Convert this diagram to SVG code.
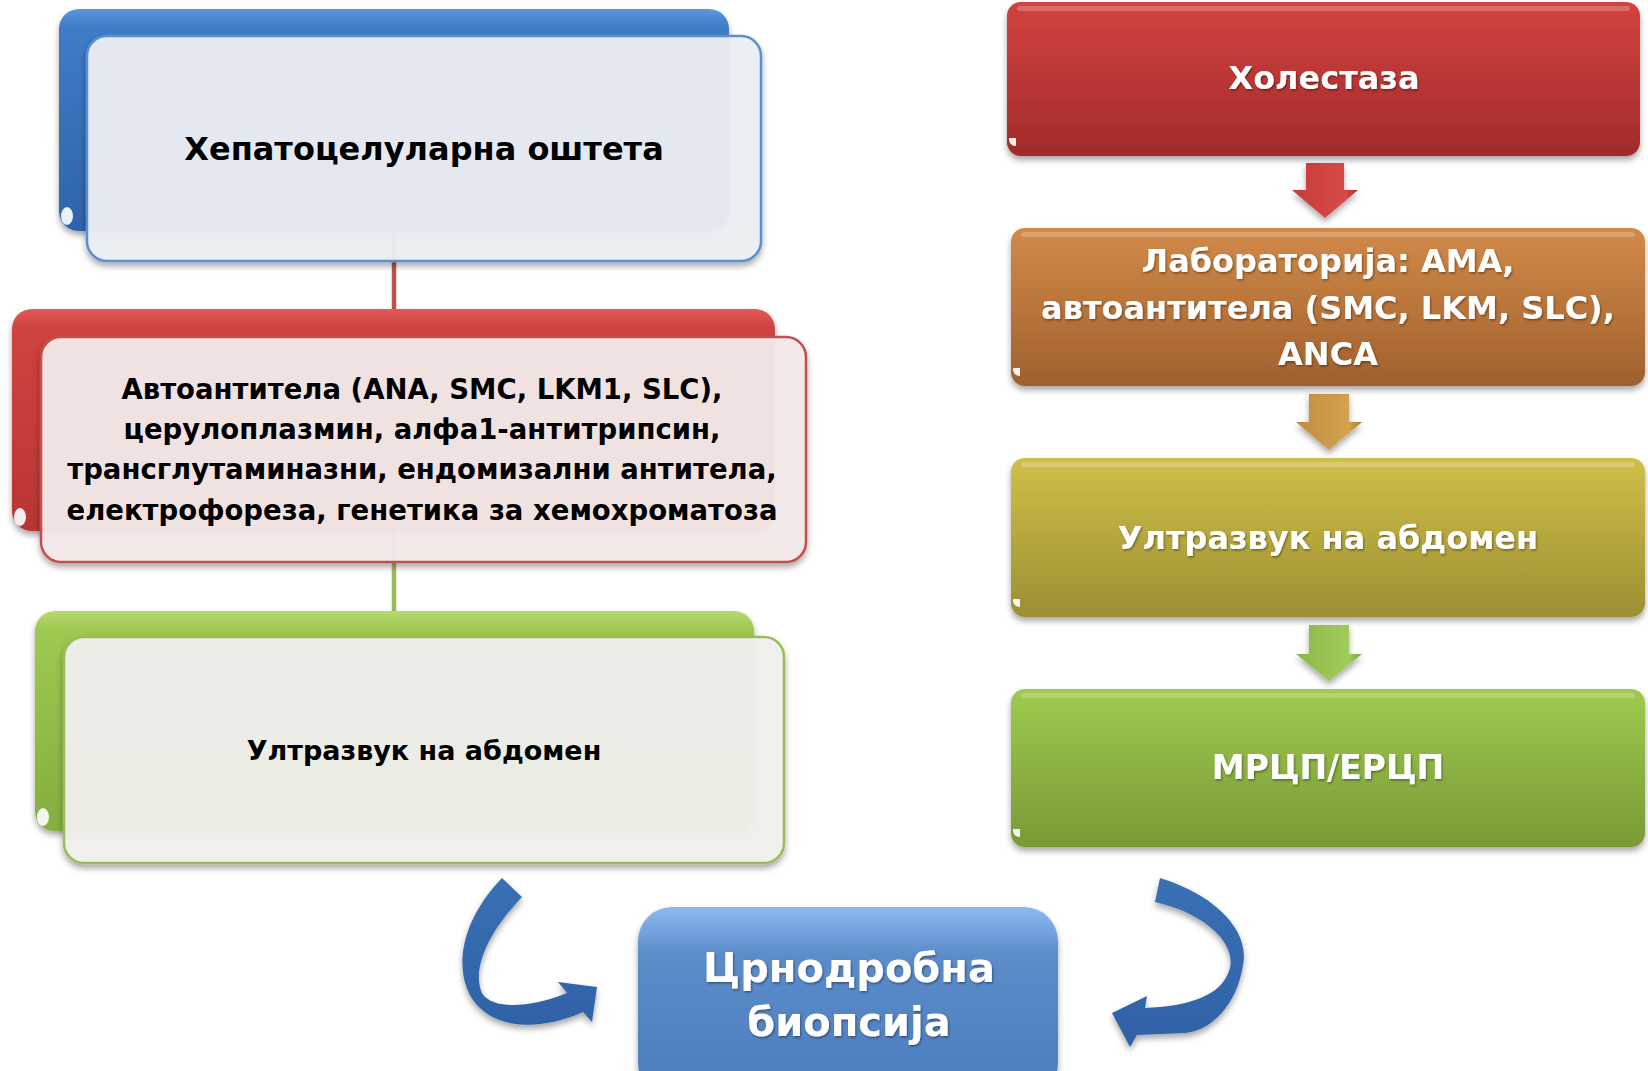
<svg xmlns="http://www.w3.org/2000/svg" width="1648" height="1071" viewBox="0 0 1648 1071">
  <defs>
    <linearGradient id="gBlueBack" x1="0" y1="0" x2="0" y2="1">
      <stop offset="0" stop-color="#5a98df"/>
      <stop offset="0.08" stop-color="#3f7cc6"/>
      <stop offset="1" stop-color="#2f63a9"/>
    </linearGradient>
    <linearGradient id="gRedBack" x1="0" y1="0" x2="0" y2="1">
      <stop offset="0" stop-color="#e25a57"/>
      <stop offset="0.08" stop-color="#d04340"/>
      <stop offset="1" stop-color="#b93534"/>
    </linearGradient>
    <linearGradient id="gGreenBack" x1="0" y1="0" x2="0" y2="1">
      <stop offset="0" stop-color="#b7da72"/>
      <stop offset="0.08" stop-color="#9fc851"/>
      <stop offset="1" stop-color="#86ad3e"/>
    </linearGradient>
    <linearGradient id="gRed" x1="0" y1="0" x2="0" y2="1">
      <stop offset="0" stop-color="#d4423f"/>
      <stop offset="1" stop-color="#a12b2b"/>
    </linearGradient>
    <linearGradient id="gOrange" x1="0" y1="0" x2="0" y2="1">
      <stop offset="0" stop-color="#d28a48"/>
      <stop offset="1" stop-color="#a0602d"/>
    </linearGradient>
    <linearGradient id="gOlive" x1="0" y1="0" x2="0" y2="1">
      <stop offset="0" stop-color="#cfbf48"/>
      <stop offset="1" stop-color="#9c8f33"/>
    </linearGradient>
    <linearGradient id="gGreen" x1="0" y1="0" x2="0" y2="1">
      <stop offset="0" stop-color="#9fca50"/>
      <stop offset="1" stop-color="#799935"/>
    </linearGradient>
    <linearGradient id="gBlueBottom" x1="0" y1="0" x2="0" y2="1">
      <stop offset="0" stop-color="#8cbaf0"/>
      <stop offset="0.25" stop-color="#5c8cca"/>
      <stop offset="1" stop-color="#4b7cbc"/>
    </linearGradient>
    <linearGradient id="gArrowRed" x1="0" y1="0" x2="1" y2="0">
      <stop offset="0" stop-color="#c73b3b"/>
      <stop offset="0.8" stop-color="#d84a48"/>
      <stop offset="1" stop-color="#b23030"/>
    </linearGradient>
    <linearGradient id="gArrowGold" x1="0" y1="0" x2="1" y2="0">
      <stop offset="0" stop-color="#c08e3e"/>
      <stop offset="0.8" stop-color="#d2a250"/>
      <stop offset="1" stop-color="#a87a30"/>
    </linearGradient>
    <linearGradient id="gArrowGreen" x1="0" y1="0" x2="1" y2="0">
      <stop offset="0" stop-color="#8cb848"/>
      <stop offset="0.8" stop-color="#a2cc5a"/>
      <stop offset="1" stop-color="#7aa23c"/>
    </linearGradient>
    <linearGradient id="gCurve" x1="0" y1="0" x2="0" y2="1">
      <stop offset="0" stop-color="#3a70b4"/>
      <stop offset="1" stop-color="#2f62a6"/>
    </linearGradient>
    <filter id="shadow" x="-10%" y="-10%" width="120%" height="130%">
      <feDropShadow dx="0" dy="4" stdDeviation="3" flood-color="#000" flood-opacity="0.35"/>
    </filter>
    <filter id="tshadow" x="-5%" y="-20%" width="110%" height="140%">
      <feDropShadow dx="1" dy="1.5" stdDeviation="1" flood-color="#000" flood-opacity="0.4"/>
    </filter>
  </defs>
  <style>
    .dark { font-family: "DejaVu Sans", "Noto Sans", sans-serif; font-weight: bold; fill: #000; text-anchor: middle; }
    .light { font-family: "DejaVu Sans", "Noto Sans", sans-serif; font-weight: bold; fill: #fff; text-anchor: middle; filter: url(#tshadow); }
    .front { fill-opacity: 0.95; stroke-width: 2.5; filter: url(#shadow); }
    .back { filter: url(#shadow); }
    .rbox { filter: url(#shadow); }
    .gloss { fill: #fff; opacity: 0.9; }
    .topline { fill: #fff; opacity: 0.22; }
  </style>

  <!-- connectors -->
  <g id="connectors">
    <line x1="394" y1="229" x2="394" y2="311" stroke="#c0504d" stroke-width="4.5"/>
    <line x1="394" y1="531" x2="394" y2="613" stroke="#9bbb59" stroke-width="4.5"/>
    <polygon points="1306,163 1344,163 1344,190 1358,190 1325,218 1292,190 1306,190" fill="url(#gArrowRed)" filter="url(#shadow)"/>
    <polygon points="1309,394 1349,394 1349,422 1362,422 1329,450 1296,422 1309,422" fill="url(#gArrowGold)" filter="url(#shadow)"/>
    <polygon points="1309,625 1349,625 1349,654 1362,654 1329,681 1296,654 1309,654" fill="url(#gArrowGreen)" filter="url(#shadow)"/>
    <path d="M 502,878 L 522,897 C 495,925 470,965 482,993 C 492,1010 530,1008 567,993 L 558,982 L 597,987 L 592,1022 L 583,1012 C 550,1027 505,1032 480,1008 C 455,985 452,930 502,878 Z" fill="url(#gCurve)" filter="url(#shadow)"/>
    <path d="M 1160,878 C 1215,895 1250,930 1243,965 C 1238,1000 1215,1030 1185,1033 L 1137,1035 L 1130,1047 L 1112,1013 L 1147,996 L 1145,1008 C 1185,1006 1222,998 1230,968 C 1236,940 1200,912 1155,902 Z" fill="url(#gCurve)" filter="url(#shadow)"/>
  </g>

  <!-- left column -->
  <g id="node-hepatocellular">
    <rect class="back" x="59" y="9" width="670" height="222" rx="20" fill="url(#gBlueBack)"/>
    <ellipse class="gloss" cx="67" cy="216" rx="6" ry="9"/>
    <rect class="front" x="87" y="36" width="674" height="225" rx="20" fill="#eceff4" stroke="#5b8fd0"/>
    <text class="dark" x="424" y="160" font-size="32">Хепатоцелуларна оштета</text>
  </g>

  <g id="node-autoantibodies">
    <rect class="back" x="12" y="309" width="763" height="222" rx="20" fill="url(#gRedBack)"/>
    <ellipse class="gloss" cx="20" cy="517" rx="6" ry="9"/>
    <rect class="front" x="41" y="337" width="765" height="225" rx="20" fill="#f4eaea" stroke="#c0504d"/>
    <text class="dark" x="422" y="399" font-size="27.5">Автоантитела (ANA, SMC, LKM1, SLC),</text>
    <text class="dark" x="422" y="439" font-size="27.5">церулоплазмин, алфа1-антитрипсин,</text>
    <text class="dark" x="422" y="479" font-size="27.5">трансглутаминазни, ендомизални антитела,</text>
    <text class="dark" x="422" y="520" font-size="27.5">електрофореза, генетика за хемохроматоза</text>
  </g>

  <g id="node-ultrasound-left">
    <rect class="back" x="35" y="611" width="719" height="220" rx="20" fill="url(#gGreenBack)"/>
    <ellipse class="gloss" cx="43" cy="817" rx="6" ry="9"/>
    <rect class="front" x="64" y="637" width="720" height="226" rx="20" fill="#f0f1ed" stroke="#9bbb59"/>
    <text class="dark" x="424" y="760" font-size="27">Ултразвук на абдомен</text>
  </g>

  <!-- right column -->
  <g id="node-cholestasis">
    <rect class="rbox" x="1007" y="2" width="633" height="154" rx="14" fill="url(#gRed)"/>
    <rect class="topline" x="1017" y="6" width="613" height="5" rx="2.5"/>
    <path class="gloss" d="M 1009,138 L 1016,138 L 1016,146 Q 1010,146 1009,140 Z"/>
    <text class="light" x="1324" y="89" font-size="32">Холестаза</text>
  </g>

  <g id="node-laboratory">
    <rect class="rbox" x="1011" y="228" width="634" height="158" rx="14" fill="url(#gOrange)"/>
    <rect class="topline" x="1021" y="232" width="614" height="5" rx="2.5"/>
    <path class="gloss" d="M 1013,368 L 1020,368 L 1020,376 Q 1014,376 1013,370 Z"/>
    <text class="light" x="1328" y="272" font-size="32">Лабораторија: АМА,</text>
    <text class="light" x="1328" y="319" font-size="32">автоантитела (SMC, LKM, SLC),</text>
    <text class="light" x="1328" y="365" font-size="32">ANCA</text>
  </g>

  <g id="node-ultrasound-right">
    <rect class="rbox" x="1011" y="458" width="634" height="159" rx="14" fill="url(#gOlive)"/>
    <rect class="topline" x="1021" y="462" width="614" height="5" rx="2.5"/>
    <path class="gloss" d="M 1013,599 L 1020,599 L 1020,607 Q 1014,607 1013,601 Z"/>
    <text class="light" x="1328" y="549" font-size="32">Ултразвук на абдомен</text>
  </g>

  <g id="node-mrcp">
    <rect class="rbox" x="1011" y="689" width="634" height="158" rx="14" fill="url(#gGreen)"/>
    <rect class="topline" x="1021" y="693" width="614" height="5" rx="2.5"/>
    <path class="gloss" d="M 1013,829 L 1020,829 L 1020,837 Q 1014,837 1013,831 Z"/>
    <text class="light" x="1328" y="779" font-size="33">МРЦП/ЕРЦП</text>
  </g>

  <!-- bottom -->
  <g id="node-biopsy">
    <rect class="rbox" x="638" y="907" width="420" height="190" rx="34" fill="url(#gBlueBottom)"/>
    <text class="light" x="849" y="982" font-size="40">Црнодробна</text>
    <text class="light" x="849" y="1036" font-size="40">биопсија</text>
  </g>
</svg>
